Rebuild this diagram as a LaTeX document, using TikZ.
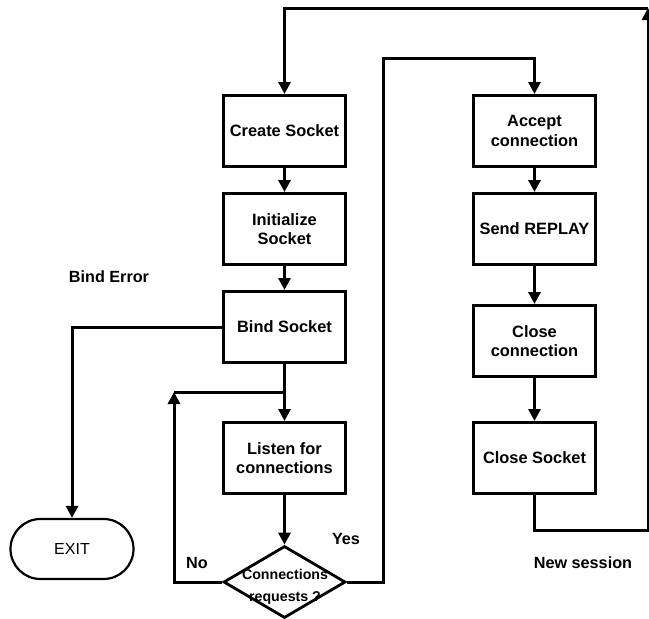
\documentclass[tikz,border=0pt]{standalone}
\usepackage{fontspec}
\setmainfont{Liberation Sans}
\usetikzlibrary{shapes.geometric,arrows.meta}
\tikzset{
  stepbox/.style={draw,line width=3pt,minimum width=122pt,minimum height=71pt,
    align=center,inner sep=0pt,font=\bfseries\fontsize{16.4}{19.5}\selectfont},
  endbox/.style={draw,line width=2.2pt,rounded corners=30pt,minimum width=123pt,
    minimum height=60pt,font=\fontsize{16}{19}\selectfont},
  decbox/.style={draw,diamond,line width=2.8pt,minimum width=122pt,minimum height=72pt,inner sep=0pt},
  tag/.style={font=\bfseries\fontsize{16.2}{19}\selectfont},
  arr/.style={line width=3pt,-{Triangle[width=12pt,length=12pt]}},
  line/.style={line width=3pt}
}
\begin{document}
\begin{tikzpicture}[x=1pt,y=-1pt]
  \useasboundingbox (0,0) rectangle (649,619);

  \node[stepbox] (cs) at (284.5,131) {Create Socket};
  \node[stepbox] (is) at (284.5,229) {Initialize\\Socket};
  \node[stepbox] (bs) at (284.5,327) {Bind Socket};
  \node[stepbox] (lc) at (284.5,458) {Listen for\\connections};
  \node[decbox] (dec) at (284.5,582) {};
  \node[font=\bfseries\fontsize{14.2}{22}\selectfont,align=center] (dectxt) at (285,587) {Connections\\requests ?};

  \node[stepbox] (ac) at (534.5,131) {Accept\\connection};
  \node[stepbox] (sr) at (534.5,229) {Send REPLAY};
  \node[stepbox] (cc) at (534.5,341) {Close\\connection};
  \node[stepbox] (ck) at (534.5,458) {Close Socket};

  \node[endbox] (exit) at (72,549) {EXIT};

  \node[tag] (binderr) at (109,277) {Bind Error};
  \node[tag] (yes) at (346,539) {Yes};
  \node[tag] (no) at (197,563) {No};
  \node[tag] (newsess) at (583,563) {New session};

  \coordinate (noturn) at (174,392);
  \coordinate (yesturn) at (383,58);
  \coordinate (loopa) at (648,530);
  \coordinate (loopb) at (648,8);

  \draw[arr] (cs) -- (is);
  \draw[arr] (is) -- (bs);
  \draw[arr] (bs) -- (lc);
  \draw[arr] (lc) -- (dec);
  \draw[arr] (bs.west) -| (exit.north);
  \draw[arr] (dec.west) -| (noturn);
  \draw[line] (noturn) -- (bs.south |- noturn);
  \draw[arr] (dec.east) -| (yesturn) -| (ac.north);
  \draw[arr] (ac) -- (sr);
  \draw[arr] (sr) -- (cc);
  \draw[arr] (cc) -- (ck);
  \draw[arr] (ck.south) |- (loopa) -- (loopb);
  \draw[arr] (loopb) -| (cs.north);
\end{tikzpicture}
\end{document}
